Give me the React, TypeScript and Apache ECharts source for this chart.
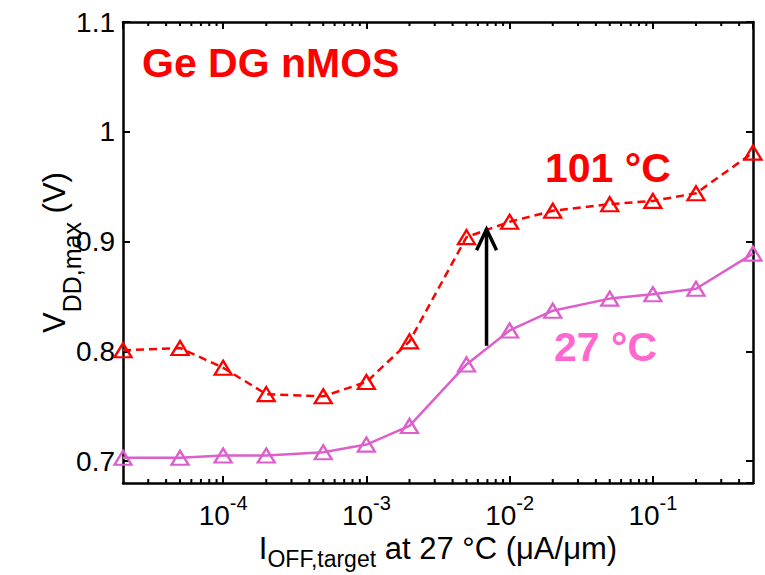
import React, { useEffect, useRef } from 'react';
import * as echarts from 'echarts';

// Off-state current targets at 27 °C (µA/µm)
const currents = [2e-5, 5e-5, 1e-4, 2e-4, 5e-4, 1e-3, 2e-3, 5e-3, 1e-2, 2e-2, 5e-2, 1e-1, 2e-1, 5e-1];
// Maximum supply voltage (V) at 101 °C
const vdd101 = [0.801, 0.803, 0.785, 0.761, 0.759, 0.772, 0.809, 0.904, 0.918, 0.928, 0.934, 0.937, 0.944, 0.981];
// Maximum supply voltage (V) at 27 °C
const vdd27 = [0.703, 0.703, 0.705, 0.705, 0.708, 0.715, 0.732, 0.788, 0.819, 0.837, 0.848, 0.852, 0.857, 0.889];

// Axis ranges
const xRange = [2e-5, 0.5];
const yRange = [0.68, 1.1];

// Log-axis minor ticks: 2..9 within each decade
const decades = [1e-5, 1e-4, 1e-3, 1e-2, 1e-1];
const mantissas = [2, 3, 4, 5, 6, 7, 8, 9];

// Temperature shift arrow: [current, from V, to V]
const arrow = [0.0069, 0.805, 0.912];

const RED = '#ff0000';
const PINK_LINE = '#dc5fcc';
const PINK_TEXT = '#ff66d0';
const FONT = 'Arial, "Liberation Sans", Helvetica, sans-serif';

export default function App() {
  const ref = useRef<HTMLDivElement>(null);

  useEffect(() => {
    if (!ref.current) return;
    const chart = echarts.init(ref.current, undefined, { renderer: 'svg' });

    const minorTicks: number[][] = [];
    decades.forEach((d) =>
      mantissas.forEach((m) => {
        const v = d * m;
        if (v > xRange[0] * 1.0001 && v < xRange[1] * 0.9999) minorTicks.push([v, yRange[0]]);
      })
    );

    const isDecade = (v: number) => {
      const e = Math.round(Math.log10(v));
      return Math.abs(Math.log10(v) - e) < 1e-6 ? e : null;
    };

    const axisLine = { show: true, lineStyle: { color: '#000', width: 2.5 } };
    const tick = { show: true, inside: true, length: 7, lineStyle: { color: '#000', width: 2 } };

    const option: any = {
      animation: false,
      backgroundColor: '#fff',
      textStyle: { fontFamily: FONT },
      grid: { left: 123, right: 12, top: 22, bottom: 92, containLabel: false, outerBoundsMode: 'none' },
      xAxis: [
        {
          type: 'log',
          logBase: 10,
          min: xRange[0],
          max: xRange[1],
          position: 'bottom',
          axisLine,
          axisTick: tick,
          splitLine: { show: false },
          minorTick: { show: false },
          axisLabel: {
            margin: 10,
            showMinLabel: false,
            showMaxLabel: false,
            formatter: (v: number) => {
              const e = isDecade(v);
              return e === null ? '' : `{b|10}{e|${e}}`;
            },
            rich: {
              b: { fontSize: 28, lineHeight: 24, verticalAlign: 'top', padding: [8, 0, 0, 0], color: '#000', fontFamily: FONT },
              e: { fontSize: 20, lineHeight: 19, verticalAlign: 'top', color: '#000', fontFamily: FONT },
            },
          },
          name: '{m|I}{s|OFF,target}{m| at 27 °C (μA/μm)}',
          nameLocation: 'middle',
          nameGap: 50,
          nameMoveOverlap: false,
          nameTextStyle: {
            rich: {
              m: { fontSize: 31, lineHeight: 28, verticalAlign: 'top', color: '#000', fontFamily: FONT },
              s: { fontSize: 23, lineHeight: 22, verticalAlign: 'top', padding: [14, 0, 0, 0], color: '#000', fontFamily: FONT },
            },
          },
        },
        {
          type: 'log',
          logBase: 10,
          min: xRange[0],
          max: xRange[1],
          position: 'top',
          axisLine,
          axisTick: tick,
          axisLabel: { show: false },
          splitLine: { show: false },
        },
      ],
      yAxis: [
        {
          type: 'value',
          min: yRange[0],
          max: yRange[1],
          position: 'left',
          axisLine,
          axisTick: tick,
          splitLine: { show: false },
          axisLabel: { margin: 8, showMinLabel: false, fontSize: 28, color: '#000', fontFamily: FONT },
          name: '{m|V}{s|DD,max}{m| (V)}',
          nameLocation: 'middle',
          nameGap: 52,
          nameMoveOverlap: false,
          nameTextStyle: {
            rich: {
              m: { fontSize: 31, lineHeight: 32, verticalAlign: 'top', color: '#000', fontFamily: FONT },
              s: { fontSize: 25, lineHeight: 26, verticalAlign: 'top', padding: [20, 0, 0, 0], color: '#000', fontFamily: FONT },
            },
          },
        },
        {
          type: 'value',
          min: yRange[0],
          max: yRange[1],
          position: 'right',
          axisLine,
          axisTick: tick,
          axisLabel: { show: false },
          splitLine: { show: false },
        },
      ],
      series: [
        {
          type: 'line',
          name: '101 °C',
          data: currents.map((c, i) => [c, vdd101[i]]),
          symbol: 'triangle',
          symbolSize: [17, 14],
          lineStyle: { color: RED, width: 2.5, type: [8, 5] },
          itemStyle: { color: 'rgba(255,255,255,0)', borderColor: RED, borderWidth: 2.3 },
          emphasis: { disabled: true },
          z: 4,
        },
        {
          type: 'line',
          name: '27 °C',
          data: currents.map((c, i) => [c, vdd27[i]]),
          symbol: 'triangle',
          symbolSize: [17, 14],
          lineStyle: { color: PINK_LINE, width: 2.5 },
          itemStyle: { color: 'rgba(255,255,255,0)', borderColor: PINK_LINE, borderWidth: 2.3 },
          emphasis: { disabled: true },
          z: 4,
        },
        {
          // short minor tick marks on the bottom and top edges of the log axis
          type: 'custom',
          data: minorTicks,
          encode: { x: 0, y: 1 },
          silent: true,
          z: 5,
          renderItem: (params: any, api: any) => {
            const p = api.coord([api.value(0), api.value(1)]);
            const cs = params.coordSys;
            const top = cs.y;
            const bottom = cs.y + cs.height;
            return {
              type: 'group',
              children: [
                { type: 'line', shape: { x1: p[0], y1: bottom, x2: p[0], y2: bottom - 4 }, style: { stroke: '#000', lineWidth: 2 } },
                { type: 'line', shape: { x1: p[0], y1: top, x2: p[0], y2: top + 4 }, style: { stroke: '#000', lineWidth: 2 } },
              ],
            };
          },
        },
        {
          // arrow marking the shift from 27 °C to 101 °C
          type: 'custom',
          data: [arrow],
          encode: { x: 0, y: [1, 2] },
          silent: true,
          z: 6,
          renderItem: (_params: any, api: any) => {
            const base = api.coord([api.value(0), api.value(1)]);
            const tip = api.coord([api.value(0), api.value(2)]);
            return {
              type: 'group',
              children: [
                { type: 'line', shape: { x1: base[0], y1: base[1], x2: tip[0], y2: tip[1] + 1 }, style: { stroke: '#000', lineWidth: 3.5 } },
                {
                  type: 'polyline',
                  shape: { points: [[tip[0] - 10, tip[1] + 22], [tip[0], tip[1] + 1], [tip[0] + 10, tip[1] + 22]] },
                  style: { stroke: '#000', lineWidth: 3.5, fill: 'none', lineJoin: 'miter' },
                },
              ],
            };
          },
        },
      ],
      graphic: [
        { type: 'text', x: 142, y: 63, style: { text: 'Ge DG nMOS', fill: RED, font: `bold 41px ${FONT}`, textAlign: 'left', textVerticalAlign: 'middle' } },
        { type: 'text', x: 545, y: 168, style: { text: '101 °C', fill: RED, font: `bold 41px ${FONT}`, textAlign: 'left', textVerticalAlign: 'middle' } },
        { type: 'text', x: 554, y: 347, style: { text: '27 °C', fill: PINK_TEXT, font: `bold 41px ${FONT}`, textAlign: 'left', textVerticalAlign: 'middle' } },
      ],
    };

    chart.setOption(option);
    return () => chart.dispose();
  }, []);

  return <div ref={ref} style={{ position: 'fixed', left: 0, top: 0, width: 765, height: 575 }} />;
}
